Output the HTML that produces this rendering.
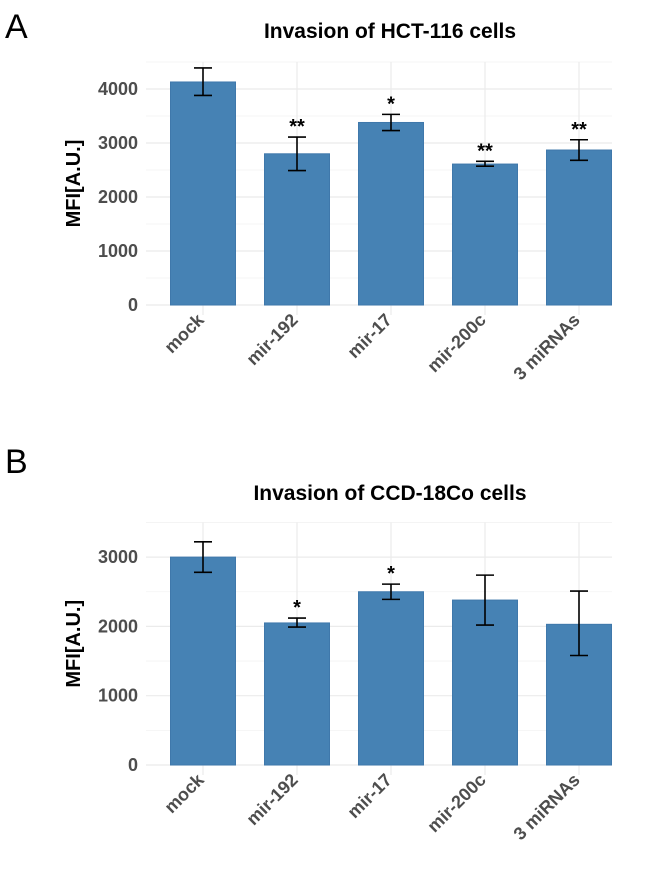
<!DOCTYPE html>
<html><head><meta charset="utf-8"><style>
body{margin:0;background:#fff;width:650px;height:870px;overflow:hidden}
svg text{font-family:"Liberation Sans",sans-serif}
</style></head><body>
<svg id="chart" width="650" height="870"></svg>
<script>
const categories=["mock","mir-192","mir-17","mir-200c","3 miRNAs"];
const valuesA=[4130,2800,3380,2610,2870];
const errLowA=[3880,2490,3230,2570,2680];
const errHighA=[4390,3110,3530,2660,3060];
const sigA=["","**","*","**","**"];
const ticksA=[0,1000,2000,3000,4000];
const valuesB=[3000,2050,2500,2380,2030];
const errLowB=[2780,1990,2390,2020,1580];
const errHighB=[3220,2120,2610,2740,2510];
const sigB=["","*","*","",""];
const ticksB=[0,1000,2000,3000];
const NS="http://www.w3.org/2000/svg";
const svg=document.getElementById('chart');
function mk(tag,attrs,parent,text){const e=document.createElementNS(NS,tag);for(const k in attrs)e.setAttribute(k,attrs[k]);if(text!==undefined)e.textContent=text;(parent||svg).appendChild(e);return e;}
function panel(cfg){
  const g=mk('g',{});
  
  
  const y=v=>cfg.y0-v*cfg.ppu;
  const x=i=>203+i*94;
  const L=146,R=612;
  for(let v=0;v<=cfg.max;v+=500){
    const gl=mk('line',{x1:L,x2:R,y1:y(v),y2:y(v),stroke:v%1000===0?'#ebebeb':'#f3f3f3','stroke-width':v%1000===0?1.2:0.8},g);
    
    
  }
  categories.forEach((c,i)=>{mk('line',{x1:x(i),x2:x(i),y1:y(cfg.max),y2:cfg.y0+10,stroke:'#ebebeb','stroke-width':1.2},g);});
  cfg.ticks.forEach(t=>{
    const tl=mk('text',{x:L-8,y:y(t)+6,'text-anchor':'end','font-size':18,'font-weight':'bold',fill:'#4d4d4d'},g,t);
    
    
  });
  categories.forEach((c,i)=>{
    const b=mk('rect',{x:x(i)-32.5,y:y(cfg.vals[i]),width:65,height:cfg.vals[i]*cfg.ppu,fill:'#4682b4',stroke:'#3f78ab','stroke-width':1},g);
    
    
    const eb=mk('path',{d:`M${x(i)-9},${y(cfg.lo[i])}H${x(i)+9}M${x(i)},${y(cfg.lo[i])}V${y(cfg.hi[i])}M${x(i)-9},${y(cfg.hi[i])}H${x(i)+9}`,stroke:'#000','stroke-width':1.6,fill:'none'},g);
    
    
    if(cfg.sig[i]){
      const s=mk('text',{x:x(i),y:y(cfg.hi[i])-4,'text-anchor':'middle','font-size':20,'font-weight':'bold',fill:'#000'},g,cfg.sig[i]);
      
      
    }
    const xl=mk('text',{x:0,y:0,'text-anchor':'end','font-size':18,'font-weight':'bold',fill:'#4d4d4d',transform:`translate(${x(i)+2},${cfg.y0+16}) rotate(-45)`},g,c);
    
    
  });
  const yt=mk('text',{x:0,y:0,'text-anchor':'middle','font-size':20,'font-weight':'bold',fill:'#000',transform:`translate(80,${(cfg.y0+y(cfg.max))/2}) rotate(-90)`},g,'MFI[A.U.]');
  
  
  const t=mk('text',{x:390,y:cfg.titleY,'text-anchor':'middle','font-size':21,'font-weight':'bold',fill:'#000'},g,cfg.title);
  
  
  const pl=mk('text',{x:5,y:cfg.letterY,'font-size':34,fill:'#000'},g,cfg.letter);
  
  
}
panel({name:'panel-a',y0:305,ppu:0.054,max:4500,vals:valuesA,lo:errLowA,hi:errHighA,sig:sigA,ticks:ticksA,title:'Invasion of HCT-116 cells',titleY:38,letter:'A',letterY:38});
panel({name:'panel-b',y0:765,ppu:0.0693,max:3500,vals:valuesB,lo:errLowB,hi:errHighB,sig:sigB,ticks:ticksB,title:'Invasion of CCD-18Co cells',titleY:500,letter:'B',letterY:473});
</script>
</body></html>
